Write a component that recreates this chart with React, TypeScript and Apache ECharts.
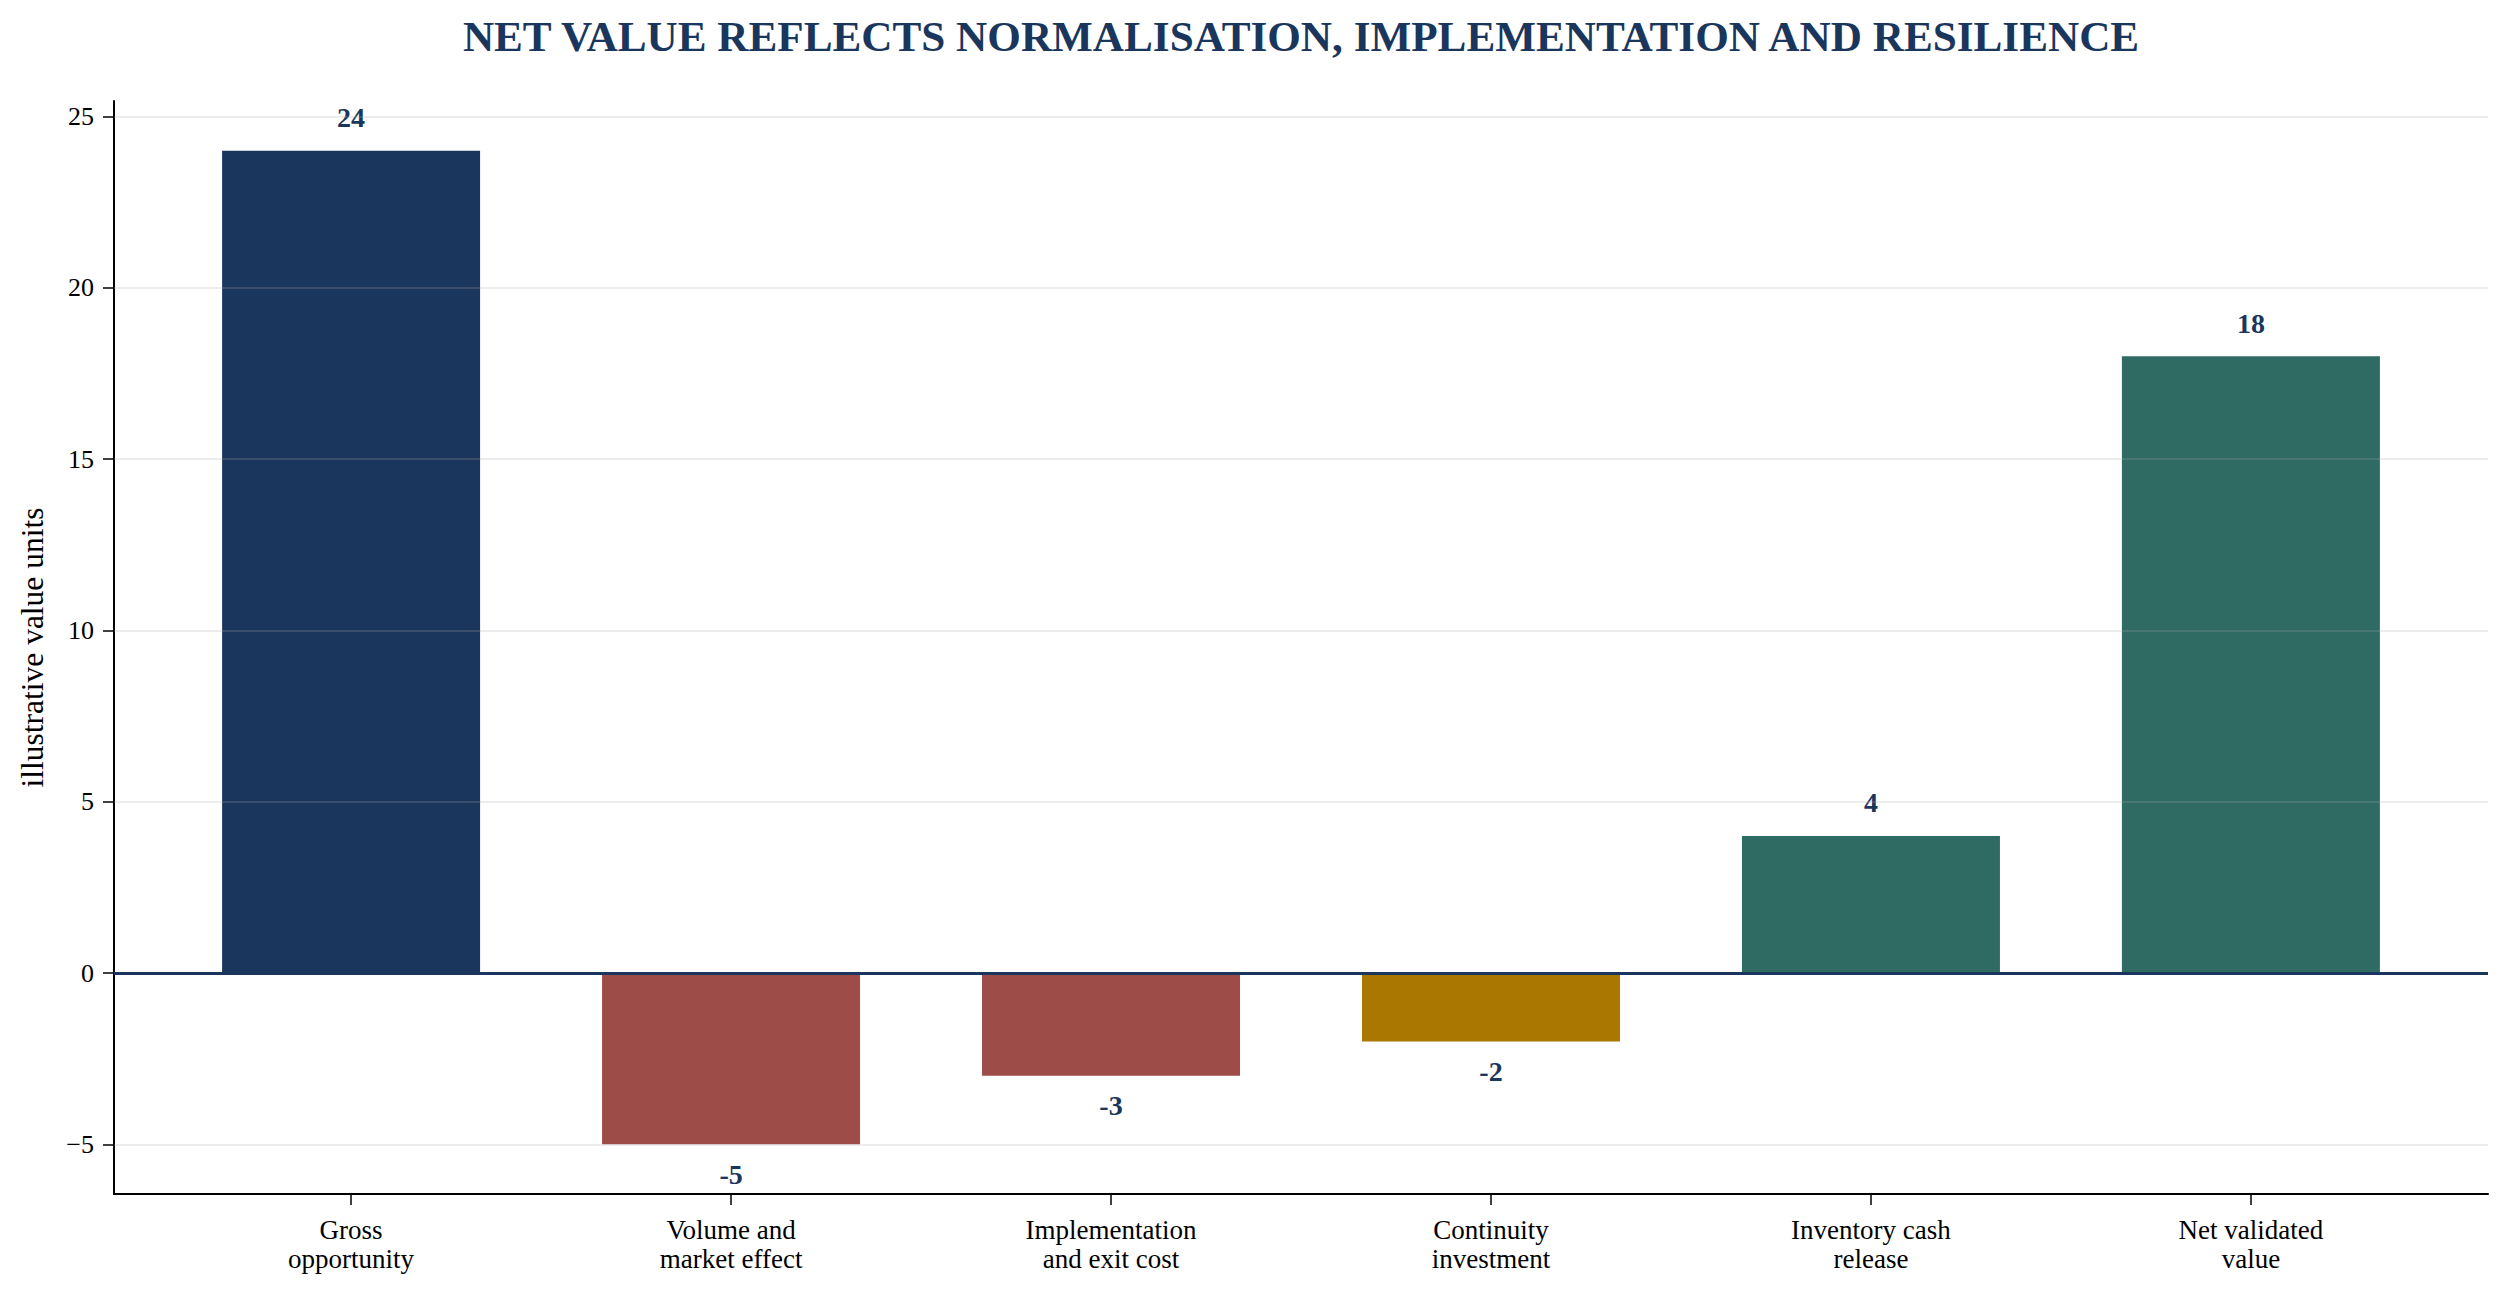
import React, { useEffect, useRef } from "react";
import * as echarts from "echarts";

const TITLE = "NET VALUE REFLECTS NORMALISATION, IMPLEMENTATION AND RESILIENCE";
const Y_AXIS_NAME = "illustrative value units";
const categories = [
  "Gross\nopportunity",
  "Volume and\nmarket effect",
  "Implementation\nand exit cost",
  "Continuity\ninvestment",
  "Inventory cash\nrelease",
  "Net validated\nvalue",
];
const values = [24, -5, -3, -2, 4, 18];
const barColors = ["#1a365d", "#9e4c48", "#9e4c48", "#aa7800", "#2f6b63", "#2f6b63"];
const yTicks = [-5, 0, 5, 10, 15, 20, 25];
const gridLineValues = [-5, 5, 10, 15, 20, 25];

const FONT = '"Liberation Serif", "Times New Roman", serif';
const NAVY = "#1a365d";

export default function App() {
  const ref = useRef<HTMLDivElement>(null);
  useEffect(() => {
    document.body.style.margin = "0";
    if (!ref.current) return;
    const chart = echarts.init(ref.current, undefined, { renderer: "svg" });
    const xPositions = categories.map((_, i) => i);
    chart.setOption({
      animation: false,
      backgroundColor: "#ffffff",
      textStyle: { fontFamily: FONT },
      graphic: [
        {
          type: "text",
          x: 1301,
          y: 36,
          style: {
            text: TITLE,
            align: "center",
            verticalAlign: "middle",
            fontFamily: FONT,
            fontWeight: "bold",
            fontSize: 43.2,
            fill: NAVY,
          },
        },
      ],
      grid: {
        left: 114,
        right: 19,
        top: 101,
        bottom: 105,
        containLabel: false,
        outerBoundsMode: "none",
      },
      xAxis: {
        type: "value",
        min: -0.624,
        max: 5.624,
        axisLine: { show: true, onZero: false, lineStyle: { color: "#000", width: 2 } },
        axisTick: {
          show: true,
          customValues: xPositions,
          length: 11,
          lineStyle: { color: "#000", width: 1.5 },
        },
        axisLabel: {
          customValues: xPositions,
          formatter: (v: number) => categories[Math.round(v)] ?? "",
          fontFamily: FONT,
          fontSize: 27,
          lineHeight: 29,
          color: "#000",
          margin: 21,
        },
        splitLine: { show: false },
      },
      yAxis: {
        type: "value",
        min: -6.45,
        max: 25.45,
        name: Y_AXIS_NAME,
        nameLocation: "middle",
        nameGap: 66,
        nameMoveOverlap: false,
        nameTextStyle: { fontFamily: FONT, fontSize: 31.5, color: "#000" },
        axisLine: { show: true, onZero: false, lineStyle: { color: "#000", width: 2 } },
        axisTick: {
          show: true,
          customValues: yTicks,
          length: 11,
          lineStyle: { color: "#000", width: 1.5 },
        },
        axisLabel: {
          customValues: yTicks,
          formatter: (v: number) => (v < 0 ? "\u2212" + Math.abs(v) : String(v)),
          fontFamily: FONT,
          fontSize: 26,
          color: "#000",
          margin: 20,
        },
        splitLine: { show: false },
      },
      series: [
        {
          type: "bar",
          barWidth: 258,
          data: values.map((v, i) => ({
            value: [i, v],
            itemStyle: { color: barColors[i] },
            label: { position: v >= 0 ? "top" : "bottom", distance: v >= 0 ? 19 : 16 },
          })),
          label: {
            show: true,
            formatter: (p: any) => String(p.value[1]),
            fontFamily: FONT,
            fontWeight: "bold",
            fontSize: 28,
            color: NAVY,
          },
          markLine: {
            silent: true,
            symbol: ["none", "none"],
            label: { show: false },
            data: [
              ...gridLineValues.map((v) => ({
                yAxis: v,
                lineStyle: { color: "rgba(170,170,170,0.22)", width: 2, type: "solid" },
              })),
              { yAxis: 0, lineStyle: { color: NAVY, width: 3, type: "solid" } },
            ],
          },
        },
      ],
    });
    return () => chart.dispose();
  }, []);
  return <div ref={ref} style={{ width: "2507px", height: "1299px" }} />;
}
